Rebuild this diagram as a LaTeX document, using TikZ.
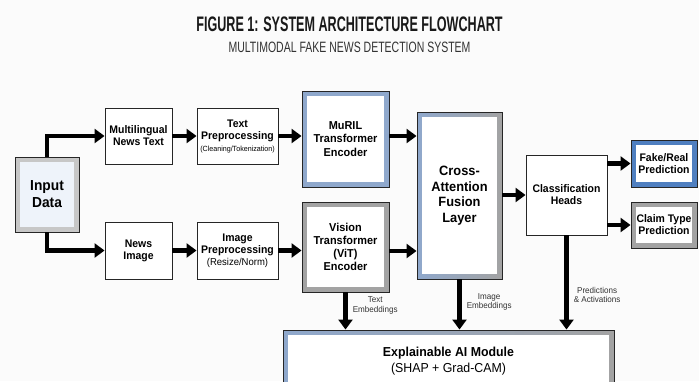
\documentclass[tikz,border=0pt]{standalone}
\usepackage{fontspec}
\setmainfont[FakeStretch=0.95]{Liberation Sans}
\newfontfamily\titlefont[FakeStretch=0.6]{Liberation Sans}
\newfontfamily\subfont[FakeStretch=0.7]{Liberation Sans}
\usetikzlibrary{arrows.meta, positioning}

\definecolor{bandblue}{HTML}{8FA8CC}
\definecolor{bandgrey}{HTML}{A3A3A3}
\definecolor{deepblue}{HTML}{4F7FC0}
\definecolor{paleblue}{HTML}{EEF3FA}
\definecolor{paper}{HTML}{FBFBFB}

\tikzset{
  box/.style={draw=black!85, line width=0.9pt, fill=white, align=center, inner sep=1pt,
    font=\bfseries\fontsize{11}{12}\selectfont},
  hole/.style={path picture={\fill[#1] ([shift={(5pt,-5pt)}]path picture bounding box.north west)
    rectangle ([shift={(-5pt,5pt)}]path picture bounding box.south east);}},
  hole/.default=white,
  band/.style={box, fill=#1, hole},
  fadeband/.style={box, left color=bandblue, right color=bandgrey, hole},
  arr/.style={line width=4.5pt, black, -{Triangle[length=10pt,width=14pt]}},
  lbl/.style={font=\fontsize{8.5}{9.5}\selectfont, align=center, text=black!80, inner sep=1pt}
}

\begin{document}
\begin{tikzpicture}[x=1pt, y=-1pt]
    \useasboundingbox[fill=paper] (0,0) rectangle (699,381);

    % heading
    \node[text=black!90] (title) at (349.5,24) {\titlefont\bfseries\fontsize{21}{24}\selectfont FIGURE 1: SYSTEM ARCHITECTURE FLOWCHART};
    \node[text=black!80] (subtitle) at (349.5,47) {\subfont\fontsize{15}{17}\selectfont MULTIMODAL FAKE NEWS DETECTION SYSTEM};

    % inputs
    \node[box, fill=black!22, hole=paleblue, minimum width=64pt, minimum height=75pt,
      font=\bfseries\fontsize{14.5}{17}\selectfont] (input) at (47,194.5) {Input\\Data};
    \node[box, minimum width=67pt, minimum height=56pt] (text) at (138.5,136) {Multilingual\\News Text};
    \node[box, minimum width=81pt, minimum height=56pt] (textprep) at (237.5,136)
      {Text\\Preprocessing\\{\mdseries\fontsize{7.5}{8.5}\selectfont(Cleaning/Tokenization)}};
    \node[box, minimum width=67pt, minimum height=57pt] (image) at (138.5,250.5) {News\\Image};
    \node[box, minimum width=81pt, minimum height=57pt] (imgprep) at (237.5,250.5)
      {Image\\Preprocessing\\{\mdseries\fontsize{10}{11}\selectfont(Resize/Norm)}};

    % encoders and fusion
    \node[band=bandblue, minimum width=87pt, minimum height=96pt,
      font=\bfseries\fontsize{11.5}{13.5}\selectfont] (muril) at (345.5,139) {MuRIL\\Transformer\\Encoder};
    \node[band=bandgrey, minimum width=87pt, minimum height=90pt,
      font=\bfseries\fontsize{11.5}{13}\selectfont] (vit) at (345.5,247) {Vision\\Transformer\\(ViT)\\Encoder};
    \node[fadeband, minimum width=85pt, minimum height=167pt,
      font=\bfseries\fontsize{13.5}{15.5}\selectfont] (fusion) at (459.5,195.5) {Cross-\\Attention\\Fusion\\Layer};

    % outputs
    \node[box, minimum width=81pt, minimum height=80pt] (heads) at (566.5,195) {Classification\\Heads};
    \node[band=deepblue, minimum width=66pt, minimum height=47pt] (fake) at (664,163.5) {Fake/Real\\Prediction};
    \node[band=bandgrey, minimum width=66pt, minimum height=46pt] (claim) at (664,225) {Claim Type\\Prediction};
    \node[fadeband, minimum width=331pt, minimum height=62pt,
      font=\bfseries\fontsize{13}{16}\selectfont] (xai) at (448.5,361)
      {Explainable AI Module\\{\mdseries(SHAP + Grad-CAM)}};

    % connectors
    \draw[arr] (input.north) |- (text.west);
    \draw[arr] (input.south) |- (image.west);
    \draw[arr] (text) -- (textprep);
    \draw[arr] (image) -- (imgprep);
    \draw[arr] (textprep.east) -- (textprep.east -| muril.west);
    \draw[arr] (imgprep.east) -- (imgprep.east -| vit.west);
    \draw[arr] ([yshift=3pt]muril.east) -- ([yshift=3pt]muril.east -| fusion.west);
    \draw[arr] ([yshift=-4pt]vit.east) -- ([yshift=-4pt]vit.east -| fusion.west);
    \draw[arr] (fusion.east |- heads.west) -- (heads.west);
    \draw[arr] (heads.east |- fake.west) -- (fake.west);
    \draw[arr] (heads.east |- claim.west) -- (claim.west);
    \draw[arr] (vit.south) -- node[lbl, pos=0.35, right=4pt] {Text\\Embeddings} (vit.south |- xai.north);
    \draw[arr] (fusion.south) -- node[lbl, pos=0.45, right=4pt] {Image\\Embeddings} (fusion.south |- xai.north);
    \draw[arr] (heads.south) -- node[lbl, pos=0.63, right=4pt] {Predictions\\\& Activations} (heads.south |- xai.north);
\end{tikzpicture}
\end{document}
